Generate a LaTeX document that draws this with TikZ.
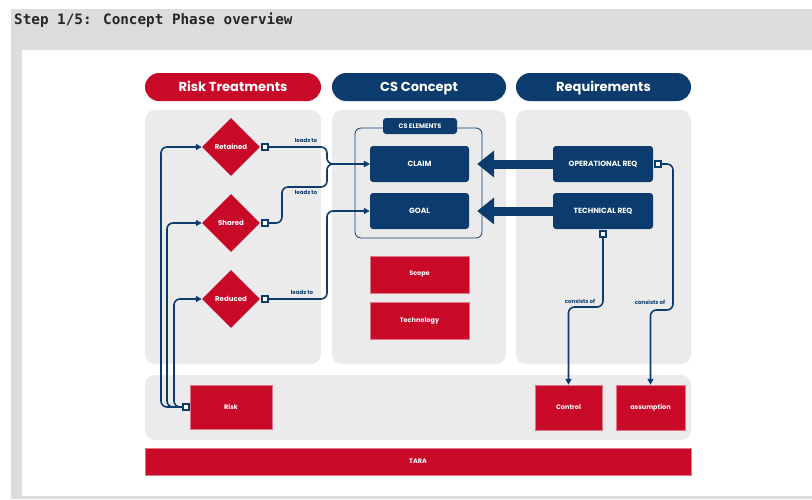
\documentclass[tikz,border=0pt]{standalone}
\usepackage{fontspec}
\setmainfont{Poppins}
\newfontfamily\codefont{DejaVu Sans Mono}
\usetikzlibrary{positioning}
\usetikzlibrary{shapes.geometric}
\usetikzlibrary{arrows.meta}
\definecolor{rd}{RGB}{200,10,40}
\definecolor{nv}{RGB}{12,60,110}
\definecolor{pn}{RGB}{235,235,235}
\definecolor{fr}{RGB}{220,220,220}

\begin{document}
\begin{tikzpicture}
		[x=1pt,y=-1pt,every node/.style={inner sep=0pt},
		 head/.style={rectangle, rounded corners=14pt, minimum height=28pt, text=white, text height=10.5pt, text depth=1.5pt, font=\bfseries\fontsize{13}{15}\selectfont},
		 panel/.style={rectangle, fill=pn, rounded corners=10pt},
		 box/.style={rectangle, text=white, font=\bfseries\fontsize{6.5}{7}\selectfont},
		 nbox/.style={box, fill=nv, rounded corners=3pt, minimum width=99pt, minimum height=36pt, font=\bfseries\fontsize{7.5}{8}\selectfont},
		 rbox/.style={box, fill=rd, draw=rd!55, line width=0.5pt},
		 dia/.style={diamond, fill=rd, minimum width=58pt, minimum height=58pt, text=white, font=\bfseries\fontsize{7}{8}\selectfont},
		 port/.style={rectangle, draw=nv, fill=white, line width=1.3pt, minimum size=6pt},
		 flow/.style={draw=nv, line width=1.6pt, rounded corners=6pt, -{Triangle[length=6pt,width=6pt]}},
		 bigflow/.style={draw=nv, line width=9pt, -{Triangle[length=17pt,width=26pt]}},
		 tag/.style={text=nv, font=\bfseries\fontsize{5.5}{6}\selectfont}]
		\useasboundingbox (0,0) rectangle (812,499);
		\fill [fr] (11,9) rectangle (812,499);
		\fill [white] (22,50) rectangle (812,496);
		\node (title) [anchor=west, text=black!85, font=\codefont\bfseries\fontsize{14.3}{16}\selectfont] at (14,20) {Step 1/5: Concept Phase overview};

		\node (hdrisk) [head, fill=rd, minimum width=176pt] at (233,87) {Risk Treatments};
		\node (hdcs) [head, fill=nv, minimum width=174pt] at (419,87) {CS Concept};
		\node (hdreq) [head, fill=nv, minimum width=175pt] at (603.5,87) {Requirements};

		\node (pleft) [panel, minimum width=176pt, minimum height=254pt] at (233,237) {};
		\node (pmid) [panel, minimum width=174pt, minimum height=254pt] at (419,237) {};
		\node (pright) [panel, minimum width=175pt, minimum height=254pt] at (603.5,237) {};
		\node (pbottom) [panel, minimum width=546pt, minimum height=65pt] at (418,407.5) {};
		\node (tara) [rbox, minimum width=546pt, minimum height=27pt] at (418,461.5) {TARA};

		\node (ret) [dia] at (231,147) {Retained};
		\node (sha) [dia] at (231,223) {Shared};
		\node (redu) [dia] at (231,299) {Reduced};
		\node (retport) [port] at (265,147) {};
		\node (shaport) [port] at (265,223) {};
		\node (reduport) [port] at (265,299) {};

		\draw [nv, line width=0.8pt, rounded corners=6pt] (355,128) rectangle (482,238);
		\node (cselem) [box, fill=nv, rounded corners=3pt, minimum width=74pt, minimum height=16pt] at (420,126) {CS ELEMENTS};
		\node (claim) [nbox] at (419.5,164) {CLAIM};
		\node (goal) [nbox] at (419.5,211) {GOAL};
		\node (scope) [rbox, minimum width=99pt, minimum height=37pt] at (419.5,274.5) {Scope};
		\node (tech) [rbox, minimum width=99pt, minimum height=37pt] at (419.5,320.5) {Technology};

		\node (opreq) [nbox, minimum width=100pt] at (603,164) {OPERATIONAL REQ};
		\node (techreq) [nbox, minimum width=100pt] at (603,211) {TECHNICAL REQ};
		\node (opport) [port] at (658,164) {};
		\node (techport) [port] at (603,234) {};

		\node (risk) [rbox, minimum width=82pt, minimum height=44pt] at (231,407) {Risk};
		\node (riskport) [port] at (186,407) {};
		\node (control) [rbox, minimum width=67pt, minimum height=45pt] at (568.5,407.5) {Control};
		\node (assump) [rbox, minimum width=69pt, minimum height=45pt] at (650.5,407.5) {assumption};

		\draw [flow] (retport.east) -| (327,164) -- (claim.west);
		\draw [flow] (shaport.east) -| (282,187) -| (327,164) -- (claim.west);
		\draw [flow] (reduport.east) -| (327,211) -- (goal.west);
		\node (lt1) [tag] at (306,140) {leads to};
		\node (lt2) [tag] at (306,192) {leads to};
		\node (lt3) [tag] at (302,292) {leads to};

		\draw [flow] (riskport.west) -| (161,147) -- (ret.west);
		\draw [flow] (riskport.west) -| (167,223) -- (sha.west);
		\draw [flow] (riskport.west) -| (174,299) -- (redu.west);

		\draw [bigflow] (opreq.west) -- ([xshift=8pt]claim.east);
		\draw [bigflow] (techreq.west) -- ([xshift=8pt]goal.east);

		\draw [flow] (techport.south) |- (568.5,307) -- (control.north);
		\draw [flow] (opport.east) -| (673,310) -| (assump.north);
		\node (co1) [tag] at (580,301) {consists of};
		\node (co2) [tag] at (650,302) {consists of};
\end{tikzpicture}
\end{document}
